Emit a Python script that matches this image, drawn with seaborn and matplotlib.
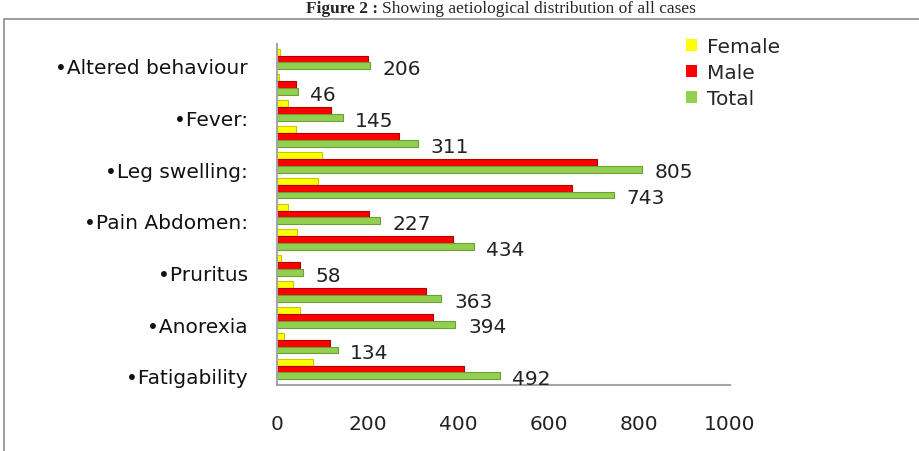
import matplotlib
matplotlib.use("Agg")
import matplotlib.pyplot as plt
import matplotlib.transforms as mtransforms
import seaborn as sns
import pandas as pd

# ---- data (top to bottom) ----
cat_ids = ["c13", "c12", "c11", "c10", "c9", "c8", "c7", "c6", "c5", "c4", "c3", "c2", "c1"]
cat_labels = ["\u2022Altered behaviour", "", "\u2022Fever:", "", "\u2022Leg swelling:", "",
              "\u2022Pain Abdomen:", "", "\u2022Pruritus", "", "\u2022Anorexia", "", "\u2022Fatigability"]
female = [6, 5, 25, 42, 99, 91, 25, 45, 8, 35, 50, 16, 80]
male = [200, 41, 120, 269, 706, 652, 202, 389, 50, 328, 344, 118, 412]
total = [206, 46, 145, 311, 805, 743, 227, 434, 58, 363, 394, 134, 492]
series = ["Female", "Male", "Total"]
colors = ["#FFFF00", "#FF0000", "#92D050"]
edge_colors = ["#C8C800", "#B00000", "#6E9E3A"]
x_ticks = [0, 200, 400, 600, 800, 1000]

df = pd.DataFrame({
    "cat": cat_ids * 3,
    "value": female + male + total,
    "series": ["Female"] * 13 + ["Male"] * 13 + ["Total"] * 13,
})

sns.set_theme(style="white")
plt.rcParams["font.family"] = ["DejaVu Sans"]
FS = 14.5

fig = plt.figure(figsize=(9.19, 4.52), dpi=100)
ax = fig.add_axes([277 / 919, 1 - 386 / 452, (730 - 277) / 919, (386 - 45) / 452])

sns.barplot(data=df, x="value", y="cat", hue="series", order=cat_ids,
            hue_order=series, palette=colors, orient="h", width=0.8,
            ax=ax, legend=False, saturation=1)

for cont, ec in zip(ax.containers, edge_colors):
    for p in cont:
        p.set_edgecolor(ec)
        p.set_linewidth(0.8)

ax.set_xlim(0, 1000)
ax.set_ylim(12.62, -0.58)
ax.set_xlabel("")
ax.set_ylabel("")
ax.set_xticks(x_ticks)
ax.set_xticklabels([str(t) for t in x_ticks], fontsize=FS, color="#222222")
ax.set_yticks(range(len(cat_ids)))
ax.set_yticklabels(cat_labels, fontsize=FS, color="#111111")
ax.tick_params(axis="x", length=0, pad=21)
ax.tick_params(axis="y", length=0, pad=21)
off = mtransforms.ScaledTranslation(0, -7 / 100, fig.dpi_scale_trans)
for lbl in ax.get_yticklabels():
    lbl.set_transform(lbl.get_transform() + off)

for s in ["top", "right"]:
    ax.spines[s].set_visible(False)
for s in ["left", "bottom"]:
    ax.spines[s].set_color("#A6A6A6")
    ax.spines[s].set_linewidth(1.5)
ax.set_facecolor("white")

# value labels for Total
tot_cont = ax.containers[2]
for p, v in zip(tot_cont, total):
    y = p.get_y() + p.get_height() / 2
    ax.annotate(str(v), (v, y), xytext=(9, -2), textcoords="offset points",
                ha="left", va="center", fontsize=FS, color="#222222")

# legend
handles = [plt.Rectangle((0, 0), 1, 1, facecolor=c, edgecolor="none") for c in colors]
fig.legend(handles, series, loc="upper left", bbox_to_anchor=(672 / 919, 1 - 24 / 452),
           frameon=False, fontsize=FS, handlelength=0.55, handleheight=0.55,
           handletextpad=0.5, labelspacing=0.35, borderpad=0.2)

# chart border
fig.patches.append(plt.Rectangle((4 / 919, -0.1), 1.2, 1 - 20 / 452 + 0.1,
                                 transform=fig.transFigure, fill=False,
                                 edgecolor="#8C8C8C", linewidth=1.2))

# title
fig.text(378 / 919, 1 - 1 / 452, "Figure 2 :", ha="right", va="top", fontsize=12.5,
         fontweight="bold", family="Liberation Serif")
fig.text(382 / 919, 1 - 1 / 452, "Showing aetiological distribution of all cases", ha="left",
         va="top", fontsize=12.5, family="Liberation Serif")

fig.savefig("out.png", dpi=100, facecolor="white")
